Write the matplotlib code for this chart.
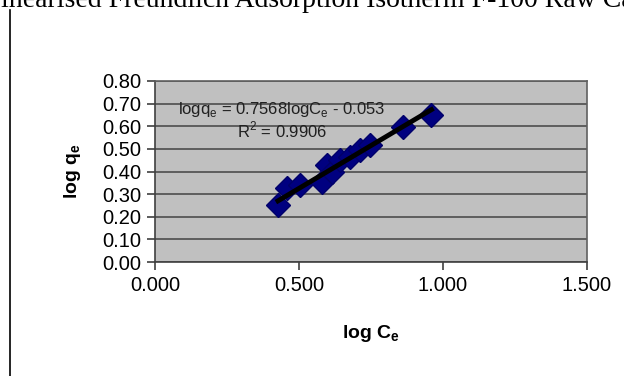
import numpy as np
import matplotlib.pyplot as plt

# log Ce / log qe
log_ce = [0.427, 0.457, 0.503, 0.579, 0.596, 0.613, 0.642, 0.677, 0.712, 0.746, 0.861, 0.960]
log_qe = [0.252, 0.326, 0.340, 0.355, 0.430, 0.400, 0.450, 0.466, 0.495, 0.518, 0.597, 0.650]

slope = 0.7568
intercept = -0.053
r2 = 0.9906

xticks = [0.0, 0.5, 1.0, 1.5]
yticks = np.arange(0, 0.81, 0.1)

plt.rcParams['font.family'] = ['Liberation Sans', 'DejaVu Sans']

fig = plt.figure(figsize=(6.24, 3.76), dpi=100)
ax = fig.add_axes([155/624, 1 - 262/376, 432/624, 181/376])

ax.set_facecolor('#c0c0c0')
ax.set_xlim(0, 1.5)
ax.set_ylim(0, 0.8)
ax.set_xticks(xticks)
ax.set_yticks(yticks)
ax.set_xticklabels([f'{v:.3f}' for v in xticks], fontsize=14.5)
ax.set_yticklabels([f'{v:.2f}' for v in yticks], fontsize=14.5)
ax.tick_params(direction='out', length=6, color='#404040', width=1.2, pad=4)
ax.grid(axis='y', color='#4d4d4d', linewidth=1.2)
ax.set_axisbelow(True)
for s in ax.spines.values():
    s.set_color('#606060')
    s.set_linewidth(1.2)
ax.spines['left'].set_color('#404040')
ax.spines['bottom'].set_color('#404040')

ax.plot(log_ce, log_qe, linestyle='none', marker='D', markersize=12,
        color='#000080', markeredgecolor='#00006a')
xf = np.array([min(log_ce), max(log_ce)])
ax.plot(xf, slope * xf + intercept, color='black', linewidth=3.5)

ax.text(0.44, 0.672, r'logq$_\mathregular{e}$ = %.4flogC$_\mathregular{e}$ - %.3f' % (slope, -intercept),
        ha='center', va='center', fontsize=12, color='#202020')
ax.text(0.44, 0.584, r'R$^\mathregular{2}$ = %.4f' % r2,
        ha='center', va='center', fontsize=12, color='#202020')

ax.set_xlabel(r'log C$_\mathregular{e}$', fontsize=14, fontweight='bold', labelpad=20)
ax.set_ylabel(r'log q$_\mathregular{e}$', fontsize=14, fontweight='bold', labelpad=14)

# caption text cut off at the top, as in the page scan, plus page margin line
fig.text(-0.026, 1 - 7/376, 'Linearised Freundlich Adsorption Isotherm F-100 Raw Carbon',
         fontsize=20, family='Liberation Serif', ha='left', va='baseline')
fig.add_artist(plt.Line2D([9.5/624, 9.5/624], [0, 1 - 10/376], color='black', linewidth=1.2))

fig.savefig('out.png', dpi=100)
